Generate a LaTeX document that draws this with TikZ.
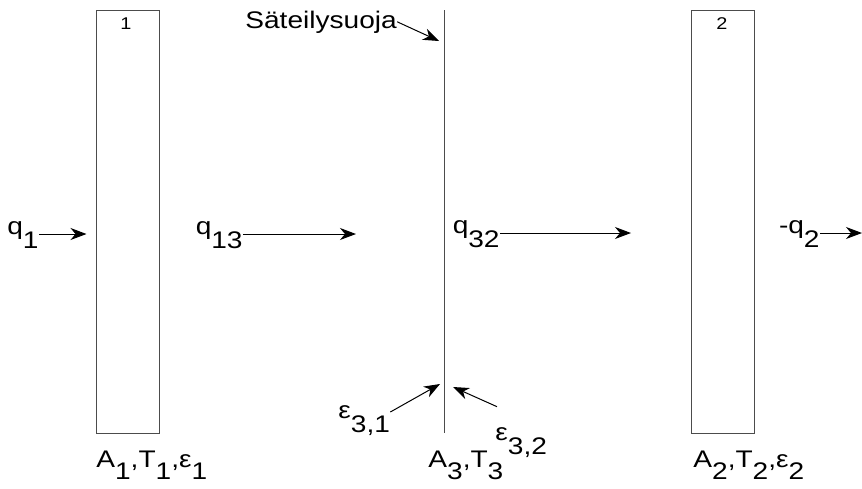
\documentclass[tikz,border=0pt]{standalone}
\usepackage{fontspec}
\setmainfont[FakeStretch=1.17]{Liberation Sans}
\usetikzlibrary{arrows.meta}
\newcommand{\dn}[2][0.62em]{\raisebox{-#1}{#2}}

\begin{document}
\begin{tikzpicture}[x=0.5pt,y=-0.5pt,font=\fontsize{12}{14}\selectfont,
  flux/.style={-{Stealth[length=8pt,width=6pt,inset=2.5pt]},line width=0.5pt},
  plate/.style={draw=black!70,line width=0.5pt,minimum width=31.5pt,minimum height=211.5pt,inner sep=0pt},
  lab/.style={inner sep=0pt}]
  \useasboundingbox (0,0) rectangle (862,488);
  % plates and shield
  \node[plate] (plate1) at (127.5,221.5) {};
  \node[plate] (plate2) at (722.5,221.5) {};
  \node[font=\fontsize{8.5}{10}\selectfont] (num1) at (126,24) {1};
  \node[font=\fontsize{8.5}{10}\selectfont] (num2) at (722,24) {2};
  \coordinate (shieldtop) at (444,10);
  \coordinate (shieldbot) at (444,433);
  \draw[black!70,line width=0.5pt] (shieldtop) -- (shieldbot);
  % shield label
  \node[lab,anchor=base west] (shieldlabel) at (245,28) {Säteilysuoja};
  \coordinate (shieldtip) at (439,41);
  \draw[flux] (shieldlabel.east) -- (shieldtip);
  % heat fluxes
  \node[lab,anchor=base east] (q1) at (39,234) {q\dn{1}};
  \draw[flux,shorten >=4.5pt] (q1.base east) -- (q1.base east -| plate1.west);
  \node[lab,anchor=base east] (q13) at (243,234) {q\dn{13}};
  \coordinate (q13end) at (356,234);
  \draw[flux] (q13.base east) -- (q13end);
  \node[lab,anchor=base east] (q32) at (500,233) {q\dn{32}};
  \coordinate (q32end) at (631,233);
  \draw[flux] (q32.base east) -- (q32end);
  \node[lab,anchor=base east] (q2) at (820,233) {-q\dn{2}};
  \coordinate (q2end) at (862,233);
  \draw[flux] (q2.base east) -- (q2end);
  % emissivities of the shield
  \node[lab,anchor=base west] (eps31) at (338,418) {ε\dn{3,1}};
  \coordinate (eps31tip) at (440,384);
  \draw[flux] ([yshift=3pt]eps31.base east) -- (eps31tip);
  \node[lab,anchor=base west] (eps32) at (495,440) {ε\dn{3,2}};
  \coordinate (eps32tip) at (453,387);
  \draw[flux] ([shift={(1pt,10pt)}]eps32.north west) -- (eps32tip);
  % surface data
  \node[lab,anchor=base west] (data1) at (96,467) {A\dn[0.5em]{1},T\dn[0.5em]{1},ε\dn[0.5em]{1}};
  \node[lab,anchor=base west] (data3) at (428,467) {A\dn[0.5em]{3},T\dn[0.5em]{3}};
  \node[lab,anchor=base west] (data2) at (693,467) {A\dn[0.5em]{2},T\dn[0.5em]{2},ε\dn[0.5em]{2}};
\end{tikzpicture}
\end{document}
